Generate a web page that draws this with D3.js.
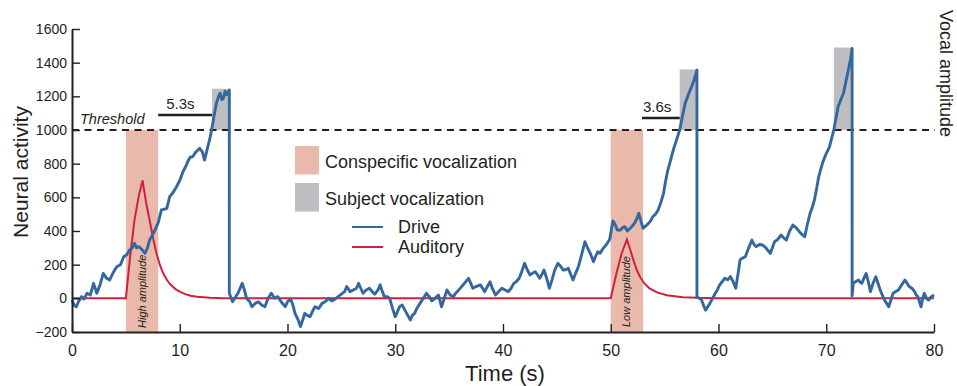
<!DOCTYPE html>
<html>
<head>
<meta charset="utf-8">
<script src="https://cdn.jsdelivr.net/npm/d3@7"></script>
<style>
  body { margin: 0; background: #fff; }
  svg { display: block; font-family: "Liberation Sans", Arial, sans-serif; }
  .axis path, .axis line { stroke: #231f20; }
  .axis text { fill: #231f20; }
</style>
</head>
<body>
<div id="chart"></div>
<script>
const xTicks = [0, 10, 20, 30, 40, 50, 60, 70, 80];
const yTicks = [-200, 0, 200, 400, 600, 800, 1000, 1200, 1400, 1600];
const threshold = 1000;

// conspecific playback windows [start, end, label]
const conspecific = [[5, 8, "High amplitude"], [50, 53, "Low amplitude"]];
// subject vocalizations [start, end, peak amplitude]
const subject = [[13.0, 14.65, 1245], [56.4, 58.0, 1360], [70.7, 72.4, 1490]];
// latency bars [start, end, level, label]
const latency = [[8, 13, 1089, "5.3s"], [52.9, 56.4, 1071, "3.6s"]];

const auditory = [
  [0, 0], [5, 0], [5.4, 250], [5.8, 465], [6.2, 610], [6.55, 700], [6.9, 560], [7.2, 465],
  [7.55, 350], [7.85, 265], [8.15, 200], [8.45, 150], [8.8, 110], [9.1, 85], [9.6, 55],
  [10.0, 40], [10.5, 25], [11.0, 15], [11.6, 9], [12.8, 4], [14, 1], [20, 0],
  [50, 0], [50.5, 140], [51.0, 265], [51.5, 350], [51.8, 290], [52.1, 228], [52.4, 170],
  [52.7, 130], [53.1, 90], [53.6, 59], [54.3, 35], [55.2, 18], [56.7, 7], [58, 3], [60, 0], [80, 0]
];

const drive = [
  [0, -10], [0.2, -40], [0.4, -50], [0.6, -20], [0.9, 10], [1.1, -5], [1.4, 30], [1.7, 20],
  [2.0, 89], [2.3, 30], [2.6, 80], [2.9, 148], [3.2, 120], [3.5, 109], [3.8, 150], [4.15, 188],
  [4.5, 200], [4.8, 247], [5.1, 260], [5.35, 287], [5.6, 300], [5.8, 327], [6.0, 300], [6.2, 307],
  [6.5, 290], [6.77, 267], [7.0, 300], [7.2, 346], [7.5, 380], [7.7, 406], [8.0, 450], [8.3, 525],
  [8.6, 530], [8.8, 535], [9.07, 604], [9.4, 630], [9.7, 663], [10.0, 700], [10.3, 752], [10.6, 790],
  [10.8, 821], [11.0, 840], [11.2, 841], [11.5, 870], [11.85, 891], [12.1, 870], [12.3, 821],
  [12.6, 900], [12.8, 950], [12.96, 1000], [13.2, 1090], [13.4, 1158], [13.6, 1200], [13.75, 1218],
  [13.9, 1180], [14.05, 1188], [14.2, 1230], [14.36, 1210], [14.6, 1237],
  [14.6, 30], [14.9, -20], [15.1, 0], [15.4, 30], [15.8, 89], [16.0, 50], [16.2, 0], [16.5, -20],
  [16.7, -50], [17.0, -30], [17.3, -20], [17.6, -40], [17.9, -50], [18.2, 0], [18.5, 30], [18.8, 0],
  [19.1, 10], [19.4, -20], [19.8, -50], [20.0, -20], [20.3, -5], [20.5, -40], [20.7, -89],
  [21.0, -130], [21.2, -168], [21.4, -130], [21.6, -89], [21.8, -100], [22.1, -109], [22.3, -80],
  [22.55, -50], [22.9, -60], [23.2, -30], [23.5, -20], [23.8, 0], [24.1, -15], [24.4, -5],
  [24.7, 10], [25.0, 25], [25.3, 40], [25.5, 70], [25.8, 40], [26.1, 50], [26.4, 60], [26.6, 89],
  [26.8, 60], [27.0, 30], [27.3, 50], [27.6, 60], [27.85, 40], [28.1, 25], [28.4, 50], [28.6, 80],
  [28.8, 40], [29.0, 10], [29.3, 10], [29.5, -5], [29.75, -60], [30.0, -109], [30.2, -80],
  [30.4, -50], [30.65, -40], [30.9, -70], [31.15, -100], [31.4, -129], [31.6, -100], [31.8, -89],
  [32.0, -60], [32.3, -30], [32.6, 0], [32.9, 30], [33.15, 10], [33.4, -15], [33.7, 0], [34.0, 20],
  [34.3, -50], [34.55, 0], [34.8, 50], [35.1, 20], [35.4, 10], [35.6, 30], [35.9, 50], [36.3, 80],
  [36.8, 119], [37.0, 90], [37.2, 60], [37.5, 70], [37.9, 80], [38.1, 60], [38.3, 40], [38.55, 70],
  [38.8, 99], [39.0, 60], [39.3, 20], [39.6, 40], [39.9, 60], [40.2, 50], [40.5, 40], [40.75, 60],
  [41.0, 89], [41.25, 100], [41.5, 119], [41.75, 160], [42.0, 208], [42.25, 170], [42.5, 139],
  [42.75, 150], [43.0, 158], [43.2, 140], [43.4, 119], [43.6, 140], [43.8, 168], [44.05, 120],
  [44.3, 60], [44.55, 110], [44.8, 168], [45.1, 208], [45.35, 190], [45.6, 168], [45.8, 170],
  [46.06, 178], [46.3, 140], [46.5, 109], [46.75, 150], [47.0, 188], [47.3, 260], [47.6, 336],
  [47.85, 300], [48.1, 267], [48.4, 218], [48.6, 250], [48.8, 277], [49.0, 267], [49.3, 297],
  [49.6, 320], [49.9, 350], [50.2, 460], [50.4, 440], [50.6, 406], [50.9, 406], [51.1, 420],
  [51.3, 426], [51.55, 400], [51.8, 416], [52.0, 430], [52.2, 445], [52.4, 470], [52.6, 505],
  [52.8, 460], [53.0, 416], [53.25, 430], [53.5, 445], [53.7, 460], [53.9, 485], [54.15, 500],
  [54.4, 525], [54.65, 570], [54.9, 624], [55.1, 700], [55.3, 762], [55.55, 820], [55.8, 881],
  [56.1, 940], [56.4, 1000], [56.65, 1080], [56.9, 1158], [57.2, 1210], [57.5, 1257], [57.75, 1300],
  [58.0, 1356],
  [58.0, 10], [58.2, 0], [58.4, -5], [58.6, -40], [58.8, -70], [59.0, -50], [59.2, -30], [59.45, 0],
  [59.7, 30], [59.9, 50], [60.1, 79], [60.35, 100], [60.6, 119], [60.85, 110], [61.1, 129],
  [61.35, 100], [61.6, 60], [61.8, 140], [62.0, 228], [62.25, 240], [62.5, 248], [62.8, 300],
  [63.1, 346], [63.3, 320], [63.5, 307], [63.8, 320], [64.1, 317], [64.4, 300], [64.8, 267],
  [65.0, 300], [65.2, 336], [65.5, 350], [65.8, 376], [66.05, 360], [66.3, 346], [66.6, 400],
  [66.9, 435], [67.2, 420], [67.5, 396], [67.75, 380], [68.0, 366], [68.25, 440], [68.5, 505],
  [68.7, 540], [68.9, 584], [69.1, 650], [69.3, 722], [69.5, 770], [69.7, 812], [70.0, 860],
  [70.3, 900], [70.5, 950], [70.7, 1000], [70.9, 1070], [71.1, 1138], [71.35, 1180], [71.6, 1218],
  [71.8, 1280], [72.05, 1356], [72.25, 1420], [72.4, 1485],
  [72.4, 15], [72.5, 89], [72.75, 100], [73.0, 109], [73.15, 95], [73.3, 89], [73.5, 120],
  [73.7, 148], [73.9, 100], [74.1, 40], [74.35, 90], [74.6, 128], [74.8, 90], [75.0, 50],
  [75.2, 20], [75.4, -10], [75.6, -30], [75.8, -50], [76.0, -10], [76.2, 30], [76.45, 40],
  [76.7, 50], [77.0, 80], [77.3, 109], [77.5, 90], [77.7, 70], [77.95, 60], [78.2, 40], [78.35, 20],
  [78.5, 10], [78.65, -20], [78.8, -50], [78.95, 0], [79.1, 30], [79.3, 0], [79.5, -10],
  [79.75, 10], [80.0, 20]
];

const legendRects = [["Conspecific vocalization", "#e9b9ab"], ["Subject vocalization", "#bdbec2"]];
const legendLines = [["Drive", "#33679e"], ["Auditory", "#d21f3c"]];

const W = 957, H = 386;
const svg = d3.select("#chart").append("svg").attr("width", W).attr("height", H);

const x = d3.scaleLinear().domain([0, 80]).range([72, 934]);
const y = d3.scaleLinear().domain([-200, 1600]).range([332, 29]);

// shaded windows
svg.selectAll(".consp")
  .data(conspecific)
  .enter().append("rect")
  .attr("x", d => x(d[0]))
  .attr("width", d => x(d[1]) - x(d[0]))
  .attr("y", y(threshold))
  .attr("height", y(-200) - y(threshold))
  .attr("fill", "#e9b9ab");

svg.selectAll(".subj")
  .data(subject)
  .enter().append("rect")
  .attr("x", d => x(d[0]))
  .attr("width", d => x(d[1]) - x(d[0]))
  .attr("y", d => y(d[2]))
  .attr("height", d => y(threshold) - y(d[2]))
  .attr("fill", "#bdbec2");

svg.selectAll(".amp")
  .data(conspecific)
  .enter().append("text")
  .attr("transform", (d, i) => `translate(${x((d[0] + d[1]) / 2) + 3.5},${i === 0 ? 328 : 327}) rotate(-90)`)
  .attr("font-size", 11)
  .attr("font-style", "italic")
  .attr("fill", "#231f20")
  .text(d => d[2]);

// threshold
svg.append("line")
  .attr("x1", x(0)).attr("x2", x(80) + 1)
  .attr("y1", y(threshold)).attr("y2", y(threshold))
  .attr("stroke", "#231f20")
  .attr("stroke-width", 1.8)
  .attr("stroke-dasharray", "7,5.5");

svg.append("text")
  .attr("x", 80).attr("y", 124)
  .attr("font-size", 14.5)
  .attr("font-style", "italic")
  .attr("fill", "#231f20")
  .text("Threshold");

// latency bars
svg.selectAll(".lat")
  .data(latency)
  .enter().append("line")
  .attr("x1", d => x(d[0])).attr("x2", d => x(d[1]))
  .attr("y1", d => y(d[2])).attr("y2", d => y(d[2]))
  .attr("stroke", "#231f20")
  .attr("stroke-width", 2.5);

svg.selectAll(".latText")
  .data(latency)
  .enter().append("text")
  .attr("x", (d, i) => x(d[0]) + (i === 0 ? 8 : 1))
  .attr("y", d => y(d[2]) - 6.5)
  .attr("font-size", 15)
  .attr("fill", "#231f20")
  .text(d => d[3]);

// curves
const line = d3.line().x(d => x(d[0])).y(d => y(d[1]));

svg.append("path")
  .datum(auditory)
  .attr("d", line)
  .attr("fill", "none")
  .attr("stroke", "#d21f3c")
  .attr("stroke-width", 2);

svg.append("path")
  .datum(drive)
  .attr("d", line)
  .attr("fill", "none")
  .attr("stroke", "#33679e")
  .attr("stroke-width", 2.9)
  .attr("stroke-linejoin", "round");

// axes
const fmt = d => (d < 0 ? "\u2212" + Math.abs(d) : String(d));
const xAxis = d3.axisBottom(x).tickValues(xTicks).tickSizeInner(-8).tickSizeOuter(0).tickPadding(13);
const yAxis = d3.axisLeft(y).tickValues(yTicks).tickFormat(fmt).tickSizeInner(-8).tickSizeOuter(0).tickPadding(5);

const gx = svg.append("g").attr("class", "axis")
  .attr("transform", `translate(0,${y(-200)})`)
  .call(xAxis);
gx.selectAll("text").attr("font-size", 16).attr("font-family", null);

const gy = svg.append("g").attr("class", "axis")
  .attr("transform", `translate(${x(0)},0)`)
  .call(yAxis);
gy.selectAll("text").attr("font-size", 14).attr("font-family", null);

svg.selectAll(".axis .domain").attr("stroke-width", 2);
svg.selectAll(".axis .tick line").attr("stroke-width", 1.4);

// axis titles
svg.append("text")
  .attr("transform", "translate(28,172) rotate(-90)")
  .attr("text-anchor", "middle")
  .attr("font-size", 21)
  .attr("fill", "#231f20")
  .text("Neural activity");

svg.append("text")
  .attr("x", 505).attr("y", 381)
  .attr("text-anchor", "middle")
  .attr("font-size", 22)
  .attr("fill", "#231f20")
  .text("Time (s)");

svg.append("text")
  .attr("transform", "translate(940,10) rotate(90)")
  .attr("font-size", 18)
  .attr("fill", "#231f20")
  .text("Vocal amplitude");

// legend
const lr = svg.selectAll(".lr")
  .data(legendRects)
  .enter().append("g")
  .attr("transform", (d, i) => `translate(295,${i === 0 ? 146 : 183})`);
lr.append("rect").attr("width", 24).attr("height", 28.5).attr("fill", d => d[1]);
lr.append("text").attr("x", 30).attr("y", 21.5)
  .attr("font-size", 18).attr("fill", "#231f20").text(d => d[0]);

const ll = svg.selectAll(".ll")
  .data(legendLines)
  .enter().append("g")
  .attr("transform", (d, i) => `translate(352,${227 + i * 20})`);
ll.append("line").attr("x1", 0).attr("x2", 31).attr("stroke", d => d[1]).attr("stroke-width", 2);
ll.append("text").attr("x", 46).attr("y", 5.8)
  .attr("font-size", 18).attr("fill", "#231f20").text(d => d[0]);
</script>
</body>
</html>
